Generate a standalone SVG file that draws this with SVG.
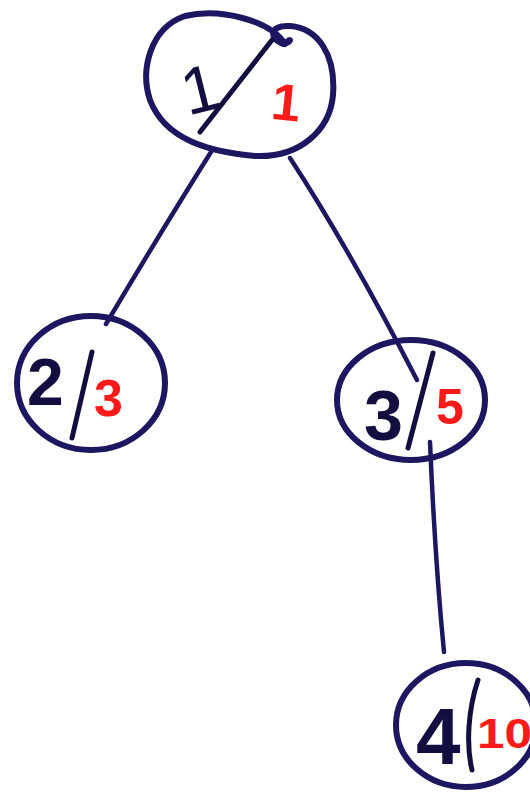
<svg xmlns="http://www.w3.org/2000/svg" width="530" height="796" viewBox="0 0 530 796">
<style>
.ring{fill:none;stroke:#1c1760;stroke-width:6;stroke-linecap:round;stroke-linejoin:round}
.edge{fill:none;stroke:#1c1760;stroke-width:4.5;stroke-linecap:round}
.bar{fill:none;stroke:#120f40;stroke-width:5;stroke-linecap:round}
.blk{font-family:"Liberation Sans",Arial,sans-serif;fill:#120f40}
.red{font-family:"Liberation Sans",Arial,sans-serif;fill:#ff1a1a;font-weight:bold}
</style>
<rect width="530" height="796" fill="#ffffff"/>
<g id="connectors">
<path class="edge" d="M211,152 Q162,230 106,324"/>
<path class="edge" d="M290,158 Q350,250 417,380"/>
<path class="edge" d="M430,442 Q435,560 444,652"/>
</g>
<g id="node1">
<path class="ring" d="M285,44 C270,20 220,8 185,16 C150,28 140,70 150,100 C165,140 210,152 255,156 C300,158 330,130 333,95 C336,55 318,28 290,26 C270,25 268,38 283,44 C292,42 292,36 285,44"/>
<path class="bar" d="M200,132 L272,40" stroke-width="4.5"/>
<text class="blk" x="182" y="112" font-size="66" transform="rotate(-14 200 90)">1</text>
<text class="red" x="272" y="120" font-size="52" transform="rotate(6 282 100)">1</text>
</g>
<g id="node2">
<ellipse class="ring" cx="91" cy="383" rx="74" ry="67"/>
<text class="blk" x="27" y="405" font-size="66" font-weight="bold">2</text>
<path class="bar" d="M92,352 L72,438" stroke-width="6"/>
<text class="red" x="94" y="416" font-size="52">3</text>
</g>
<g id="node3">
<ellipse class="ring" cx="411" cy="400" rx="74" ry="60"/>
<text class="blk" x="364" y="440" font-size="70" font-weight="bold">3</text>
<path class="bar" d="M433,353 L408,448" stroke-width="5"/>
<text class="red" x="436" y="424" font-size="50">5</text>
</g>
<g id="node4">
<ellipse class="ring" cx="466" cy="725" rx="70" ry="62"/>
<text class="blk" x="416" y="764" font-size="80" font-weight="bold">4</text>
<path class="bar" d="M478,680 C468,710 466,745 472,770" stroke-width="5"/>
<text class="red" x="477" y="748" font-size="42" textLength="55" lengthAdjust="spacingAndGlyphs">10</text>
</g>
</svg>
